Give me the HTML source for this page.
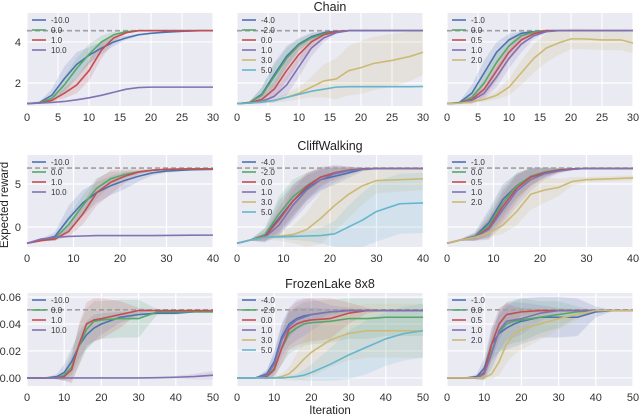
<!DOCTYPE html>
<html><head><meta charset="utf-8">
<style>
html,body{margin:0;padding:0;background:#fff;}
svg{display:block;font-family:"Liberation Sans",Arial,sans-serif;}
</style></head>
<body>
<svg id="fig" width="640" height="416" viewBox="0 0 640 416"></svg>
<script>
// ---- x samples ----
const xsChain = [0,2,4,6,8,10,12,14,16,18,20,22,25,28,30];
const xsCliff = [0,3,6,9,12,15,18,21,24,27,30,35,40];
const xsFrozen = [0,5,8,10,12,14,16,18,20,25,30,35,40,45,50];

// ---- Chain ----
const chainA_labels = ["-10.0","0.0","1.0","10.0"];
const chainA_s0 = [1,1.05,1.4,2.2,2.9,3.35,3.7,4.0,4.2,4.35,4.42,4.47,4.52,4.55,4.55];
const chainA_s1 = [1,1.03,1.25,1.9,2.7,3.4,4.0,4.35,4.5,4.55,4.55,4.55,4.55,4.55,4.55];
const chainA_s2 = [1,1.02,1.15,1.5,1.9,2.6,3.6,4.2,4.45,4.55,4.55,4.55,4.55,4.55,4.55];
const chainA_s3 = [1,1.02,1.05,1.1,1.18,1.28,1.4,1.55,1.7,1.78,1.8,1.8,1.8,1.8,1.8];
const chainA_d0 = [0,0.05,0.3,0.6,0.6,0.4,0.3,0.2,0.1,0.05,0.03,0.02,0.01,0,0];
const chainA_d1 = [0,0.03,0.2,0.4,0.5,0.5,0.3,0.15,0.05,0,0,0,0,0,0];
const chainA_d2 = [0,0.02,0.1,0.25,0.4,0.5,0.4,0.2,0.05,0,0,0,0,0,0];
const chainA_d3 = [0,0.01,0.02,0.02,0.02,0.02,0.02,0.02,0.02,0.02,0.02,0.02,0.02,0.02,0.02];

const chainB_labels = ["-4.0","-2.0","0.0","1.0","3.0","5.0"];
const chainB_s0 = [1,1.05,1.45,2.4,3.3,3.9,4.25,4.45,4.52,4.55,4.55,4.55,4.55,4.55,4.55];
const chainB_s1 = [1,1.05,1.4,2.3,3.2,3.85,4.2,4.4,4.5,4.55,4.55,4.55,4.55,4.55,4.55];
const chainB_s2 = [1,1.03,1.2,1.7,2.6,3.4,4.0,4.35,4.5,4.55,4.55,4.55,4.55,4.55,4.55];
const chainB_s3 = [1,1.02,1.1,1.35,1.9,2.8,3.7,4.2,4.45,4.55,4.55,4.55,4.55,4.55,4.55];
const chainB_s4 = [1,1.02,1.07,1.15,1.3,1.5,1.8,2.1,2.2,2.6,2.75,2.95,3.1,3.3,3.5];
const chainB_s5 = [1,1.02,1.07,1.15,1.3,1.45,1.6,1.7,1.8,1.82,1.82,1.82,1.82,1.82,1.83];
const chainB_d0 = [0,0.05,0.35,0.6,0.5,0.3,0.2,0.1,0.05,0,0,0,0,0,0];
const chainB_d1 = [0,0.05,0.35,0.6,0.5,0.3,0.2,0.1,0.05,0,0,0,0,0,0];
const chainB_d2 = [0,0.03,0.2,0.4,0.5,0.4,0.3,0.15,0.05,0,0,0,0,0,0];
const chainB_d3 = [0,0.02,0.1,0.3,0.5,0.5,0.4,0.2,0.05,0,0,0,0,0,0];
const chainB_d4 = [0,0.02,0.05,0.1,0.2,0.3,0.5,0.8,1.0,1.2,1.3,1.3,1.3,1.2,1.1];
const chainB_d5 = [0,0.01,0.02,0.02,0.02,0.02,0.02,0.02,0.02,0.02,0.02,0.02,0.02,0.02,0.02];

const chainC_labels = ["-1.0","0.0","0.5","1.0","2.0"];
const chainC_s0 = [1,1.05,1.5,2.5,3.5,4.1,4.42,4.5,4.55,4.55,4.55,4.55,4.55,4.55,4.55];
const chainC_s1 = [1,1.03,1.3,2.0,3.0,3.8,4.3,4.48,4.55,4.55,4.55,4.55,4.55,4.55,4.55];
const chainC_s2 = [1,1.02,1.2,1.7,2.6,3.5,4.1,4.4,4.55,4.55,4.55,4.55,4.55,4.55,4.55];
const chainC_s3 = [1,1.02,1.15,1.5,2.3,3.2,3.9,4.3,4.5,4.55,4.55,4.55,4.55,4.55,4.55];
const chainC_s4 = [1,1.01,1.08,1.2,1.4,1.8,2.5,3.2,3.7,3.95,4.15,4.15,4.1,4.1,3.95];
const chainC_d0 = [0,0.05,0.4,0.6,0.5,0.3,0.1,0.05,0,0,0,0,0,0,0];
const chainC_d1 = [0,0.03,0.3,0.5,0.5,0.4,0.2,0.05,0,0,0,0,0,0,0];
const chainC_d2 = [0,0.02,0.2,0.4,0.5,0.4,0.3,0.1,0,0,0,0,0,0,0];
const chainC_d3 = [0,0.02,0.15,0.3,0.5,0.5,0.4,0.15,0.05,0,0,0,0,0,0];
const chainC_d4 = [0,0.01,0.05,0.1,0.2,0.4,0.6,0.7,0.7,0.6,0.5,0.5,0.5,0.5,0.5];

// ---- CliffWalking ----
const cliffA_labels = ["-10.0","0.0","1.0","10.0"];
const cliffA_s0 = [-1.9,-1.5,-1.1,1.0,2.8,4.0,4.8,5.4,5.9,6.3,6.5,6.65,6.7];
const cliffA_s1 = [-1.9,-1.5,-1.3,0.3,2.5,4.5,5.6,6.1,6.4,6.6,6.7,6.75,6.75];
const cliffA_s2 = [-1.9,-1.6,-1.4,-0.5,1.5,4.0,5.2,5.9,6.4,6.6,6.7,6.75,6.75];
const cliffA_s3 = [-1.9,-1.4,-1.2,-1.1,-1.05,-1.0,-1.0,-1.0,-1.0,-1.0,-0.98,-0.96,-0.95];
const cliffA_d0 = [0,0.1,0.5,1.5,1.5,1.2,1.1,1.0,0.6,0.3,0.2,0.1,0.05];
const cliffA_d1 = [0,0.1,0.3,1.0,1.2,1.2,0.8,0.4,0.2,0.1,0.05,0,0];
const cliffA_d2 = [0,0.1,0.2,0.6,1.2,1.5,1.4,0.8,0.3,0.1,0.05,0,0];
const cliffA_d3 = [0,0.05,0.05,0.05,0.05,0.05,0.05,0.05,0.05,0.05,0.05,0.05,0.05];

const cliffB_labels = ["-4.0","-2.0","0.0","1.0","3.0","5.0"];
const cliffB_s0 = [-1.9,-1.5,-1.0,1.0,3.0,4.5,5.5,5.9,6.3,6.7,6.8,6.8,6.8];
const cliffB_s1 = [-1.9,-1.5,-0.9,1.5,3.5,4.8,5.8,6.3,6.6,6.75,6.8,6.8,6.8];
const cliffB_s2 = [-1.9,-1.5,-1.1,0.8,3.0,4.7,5.8,6.3,6.6,6.75,6.8,6.8,6.8];
const cliffB_s3 = [-1.9,-1.5,-1.2,0.2,2.5,4.3,5.5,6.2,6.55,6.7,6.8,6.8,6.8];
const cliffB_s4 = [-1.9,-1.5,-1.2,-1.1,-0.9,-0.3,1.0,2.5,3.8,4.8,5.4,5.5,5.6];
const cliffB_s5 = [-1.9,-1.5,-1.2,-1.15,-1.1,-1.05,-1.0,-0.8,0,0.8,1.8,2.7,2.8];
const cliffB_d0 = [0,0.1,0.8,2.0,2.0,1.5,1.2,1.0,0.6,0.2,0.1,0,0];
const cliffB_d1 = [0,0.1,0.8,2.0,2.0,1.5,1.0,0.6,0.3,0.1,0,0,0];
const cliffB_d2 = [0,0.1,0.5,1.5,1.8,1.6,1.2,0.8,0.4,0.1,0,0,0];
const cliffB_d3 = [0,0.1,0.4,1.2,1.8,1.8,1.4,1.0,0.5,0.2,0.1,0,0];
const cliffB_d4 = [0,0.1,0.3,0.5,1.0,2.0,3.0,3.0,2.8,2.2,1.5,1.4,1.3];
const cliffB_d5 = [0,0.1,0.1,0.2,0.4,0.6,0.9,1.5,2.5,3.2,3.5,3.5,3.5];

const cliffC_labels = ["-1.0","0.0","0.5","1.0","2.0"];
const cliffC_s0 = [-1.9,-1.5,-1.1,0.5,3.2,4.8,5.8,6.3,6.6,6.75,6.8,6.8,6.8];
const cliffC_s1 = [-1.9,-1.5,-1.15,0.2,2.8,4.8,5.9,6.4,6.65,6.75,6.8,6.8,6.8];
const cliffC_s2 = [-1.9,-1.5,-1.2,-0.1,2.4,4.5,5.8,6.3,6.6,6.75,6.8,6.8,6.8];
const cliffC_s3 = [-1.9,-1.5,-1.2,-0.3,2.0,4.2,5.5,6.2,6.5,6.7,6.8,6.8,6.8];
const cliffC_s4 = [-1.9,-1.5,-1.2,-0.7,0.2,1.8,3.8,4.3,4.6,5.3,5.5,5.6,5.7];
const cliffC_d0 = [0,0.1,0.5,1.5,1.8,1.4,1.0,0.5,0.2,0.1,0,0,0];
const cliffC_d1 = [0,0.1,0.4,1.4,1.8,1.5,1.0,0.5,0.2,0.1,0,0,0];
const cliffC_d2 = [0,0.1,0.4,1.2,1.8,1.6,1.1,0.6,0.3,0.1,0,0,0];
const cliffC_d3 = [0,0.1,0.4,1.2,1.8,1.8,1.3,0.7,0.3,0.1,0,0,0];
const cliffC_d4 = [0,0.1,0.3,0.5,1.0,1.6,1.8,1.5,1.0,0.5,0.3,0.3,0.3];

// ---- FrozenLake ----
const frozA_labels = ["-10.0","0.0","1.0","10.0"];
const frozA_s0 = [0,0,0.001,0.004,0.012,0.024,0.032,0.037,0.040,0.045,0.047,0.048,0.048,0.049,0.049];
const frozA_s1 = [0,0,0,0.002,0.008,0.024,0.036,0.042,0.043,0.044,0.044,0.049,0.049,0.049,0.049];
const frozA_s2 = [0,0,0,0.001,0.006,0.025,0.040,0.043,0.044,0.047,0.050,0.050,0.050,0.050,0.050];
const frozA_s3 = [0,0,0,0,0,0,0,0,0,0,0,0.0002,0.0005,0.001,0.002];
const frozA_d0 = [0,0,0.002,0.006,0.01,0.01,0.01,0.01,0.008,0.004,0.002,0.001,0.001,0,0];
const frozA_d1 = [0,0,0.001,0.004,0.01,0.015,0.015,0.015,0.014,0.014,0.014,0.002,0.001,0,0];
const frozA_d2 = [0,0,0.001,0.003,0.01,0.015,0.016,0.016,0.015,0.01,0.002,0,0,0,0];
const frozA_d3 = [0,0,0,0,0,0,0,0,0,0,0,0.0005,0.001,0.002,0.003];

const frozB_labels = ["-4.0","-2.0","0.0","1.0","3.0","5.0"];
const frozB_s0 = [0,0,0.003,0.012,0.030,0.040,0.044,0.046,0.047,0.049,0.050,0.050,0.050,0.050,0.050];
const frozB_s1 = [0,0,0.001,0.007,0.022,0.033,0.037,0.040,0.041,0.042,0.044,0.044,0.045,0.045,0.045];
const frozB_s2 = [0,0,0.001,0.006,0.022,0.036,0.040,0.042,0.043,0.044,0.048,0.050,0.050,0.050,0.050];
const frozB_s3 = [0,0,0.002,0.010,0.028,0.038,0.043,0.045,0.047,0.049,0.050,0.050,0.050,0.050,0.050];
const frozB_s4 = [0,0,0,0,0.001,0.003,0.008,0.014,0.019,0.028,0.033,0.035,0.035,0.035,0.035];
const frozB_s5 = [0,0,0,0,0,0.0005,0.001,0.002,0.004,0.010,0.017,0.023,0.029,0.033,0.035];
const frozB_d0 = [0,0,0.003,0.008,0.01,0.01,0.008,0.006,0.005,0.002,0.001,0,0,0,0];
const frozB_d1 = [0,0,0.002,0.006,0.012,0.015,0.016,0.016,0.016,0.016,0.015,0.015,0.014,0.014,0.014];
const frozB_d2 = [0,0,0.002,0.006,0.012,0.015,0.016,0.016,0.016,0.015,0.008,0.002,0,0,0];
const frozB_d3 = [0,0,0.003,0.008,0.012,0.014,0.015,0.014,0.012,0.005,0.002,0,0,0,0];
const frozB_d4 = [0,0,0,0,0.002,0.005,0.01,0.015,0.018,0.02,0.02,0.02,0.02,0.02,0.02];
const frozB_d5 = [0,0,0,0,0,0.001,0.002,0.004,0.006,0.012,0.018,0.02,0.02,0.02,0.02];

const frozC_labels = ["-1.0","0.0","0.5","1.0","2.0"];
const frozC_s0 = [0,0,0.001,0.007,0.025,0.033,0.037,0.040,0.042,0.045,0.045,0.045,0.049,0.050,0.050];
const frozC_s1 = [0,0,0,0.004,0.020,0.034,0.040,0.042,0.043,0.045,0.047,0.049,0.050,0.050,0.050];
const frozC_s2 = [0,0,0,0.004,0.025,0.040,0.047,0.048,0.049,0.050,0.050,0.050,0.050,0.050,0.050];
const frozC_s3 = [0,0,0,0.003,0.018,0.035,0.042,0.043,0.044,0.048,0.050,0.050,0.050,0.050,0.050];
const frozC_s4 = [0,0,0,0,0.003,0.012,0.025,0.032,0.036,0.040,0.044,0.047,0.050,0.050,0.050];
const frozC_d0 = [0,0,0.002,0.008,0.012,0.014,0.016,0.017,0.017,0.015,0.015,0.014,0.004,0,0];
const frozC_d1 = [0,0,0.001,0.006,0.012,0.015,0.016,0.016,0.016,0.012,0.01,0.004,0,0,0];
const frozC_d2 = [0,0,0.001,0.005,0.012,0.012,0.008,0.005,0.003,0.001,0,0,0,0,0];
const frozC_d3 = [0,0,0.001,0.004,0.012,0.015,0.014,0.013,0.012,0.006,0.002,0,0,0,0];
const frozC_d4 = [0,0,0,0.001,0.004,0.01,0.014,0.015,0.015,0.012,0.008,0.004,0.001,0,0];

const optimalChain = 4.55, optimalCliff = 6.85, optimalFrozen = 0.0505;

const NS = "http://www.w3.org/2000/svg";
const svg = document.getElementById("fig");
const COLORS = ["#4c72b0","#55a868","#c44e52","#8172b2","#ccb974","#64b5cd"];
const COLORS4 = ["#4c72b0","#55a868","#c44e52","#8172b2"];
function mk(tag, attrs, parent){const e=document.createElementNS(NS,tag);for(const k in attrs)e.setAttribute(k,attrs[k]);(parent||svg).appendChild(e);return e;}

const cols = [[27,213],[237,423],[447,633]];
const rows = [
 {top:13,bot:106,ymin:0.88,ymax:5.41,xmax:30,xt:[0,5,10,15,20,25,30],yt:[2,4],ytl:["2","4"],xs:xsChain,opt:optimalChain,title:"Chain",ty:11,
  panels:[[chainA_labels,[chainA_s0,chainA_s1,chainA_s2,chainA_s3],[chainA_d0,chainA_d1,chainA_d2,chainA_d3]],
          [chainB_labels,[chainB_s0,chainB_s1,chainB_s2,chainB_s3,chainB_s4,chainB_s5],[chainB_d0,chainB_d1,chainB_d2,chainB_d3,chainB_d4,chainB_d5]],
          [chainC_labels,[chainC_s0,chainC_s1,chainC_s2,chainC_s3,chainC_s4],[chainC_d0,chainC_d1,chainC_d2,chainC_d3,chainC_d4]]]},
 {top:155,bot:247,ymin:-2.33,ymax:8.37,xmax:40,xt:[0,10,20,30,40],yt:[0,5],ytl:["0","5"],xs:xsCliff,opt:optimalCliff,title:"CliffWalking",ty:150,
  panels:[[cliffA_labels,[cliffA_s0,cliffA_s1,cliffA_s2,cliffA_s3],[cliffA_d0,cliffA_d1,cliffA_d2,cliffA_d3]],
          [cliffB_labels,[cliffB_s0,cliffB_s1,cliffB_s2,cliffB_s3,cliffB_s4,cliffB_s5],[cliffB_d0,cliffB_d1,cliffB_d2,cliffB_d3,cliffB_d4,cliffB_d5]],
          [cliffC_labels,[cliffC_s0,cliffC_s1,cliffC_s2,cliffC_s3,cliffC_s4],[cliffC_d0,cliffC_d1,cliffC_d2,cliffC_d3,cliffC_d4]]]},
 {top:293,bot:386,ymin:-0.006,ymax:0.063,xmax:50,xt:[0,10,20,30,40,50],yt:[0,0.02,0.04,0.06],ytl:["0.00","0.02","0.04","0.06"],xs:xsFrozen,opt:optimalFrozen,title:"FrozenLake 8x8",ty:288,
  panels:[[frozA_labels,[frozA_s0,frozA_s1,frozA_s2,frozA_s3],[frozA_d0,frozA_d1,frozA_d2,frozA_d3]],
          [frozB_labels,[frozB_s0,frozB_s1,frozB_s2,frozB_s3,frozB_s4,frozB_s5],[frozB_d0,frozB_d1,frozB_d2,frozB_d3,frozB_d4,frozB_d5]],
          [frozC_labels,[frozC_s0,frozC_s1,frozC_s2,frozC_s3,frozC_s4],[frozC_d0,frozC_d1,frozC_d2,frozC_d3,frozC_d4]]]}
];

rows.forEach((r,ri)=>{
  const t=mk("text",{x:330,y:r.ty,"text-anchor":"middle","font-size":"12.5",fill:"#222"});
  t.textContent=r.title;
  
  
  r.panels.forEach((p,ci)=>{
    const [x0,x1]=cols[ci];
    const sx=v=>x0+(v/r.xmax)*(x1-x0);
    const sy=v=>r.bot-(v-r.ymin)/(r.ymax-r.ymin)*(r.bot-r.top);
    const g=mk("g",{});
    
    
    mk("rect",{x:x0,y:r.top,width:x1-x0,height:r.bot-r.top,fill:"#eaeaf2"},g);
    r.xt.forEach(v=>{
      mk("line",{x1:sx(v),x2:sx(v),y1:r.top,y2:r.bot,stroke:"#fff","stroke-width":1.2},g);
      const tl=mk("text",{x:sx(v),y:r.bot+15,"text-anchor":"middle","font-size":"11",fill:"#333"},g);
      tl.textContent=String(v);
      
      
    });
    r.yt.forEach((v,i)=>{
      mk("line",{x1:x0,x2:x1,y1:sy(v),y2:sy(v),stroke:"#fff","stroke-width":1.2},g);
      if(ci===0){
        const tl=mk("text",{x:x0-6,y:sy(v)+4,"text-anchor":"end","font-size":"11",fill:"#333"},g);
        tl.textContent=r.ytl[i];
        
        
      }
    });
    const cols6 = p[1].length===4?COLORS4:COLORS;
    p[1].forEach((s,si)=>{
      const d=p[2][si];
      let up=r.xs.map((x,i)=>sx(x)+","+sy(Math.min(s[i]+d[i],r.ymax))).join(" ");
      let lo=r.xs.map((x,i)=>sx(x)+","+sy(Math.max(s[i]-d[i],r.ymin))).reverse().join(" ");
      const b=mk("polygon",{points:up+" "+lo,fill:cols6[si],"fill-opacity":0.17,stroke:"none"},g);
      
      
    });
    const dl=mk("line",{x1:x0,x2:x1,y1:sy(r.opt),y2:sy(r.opt),stroke:"#a0a0a0","stroke-width":1.6,"stroke-dasharray":"5,3"},g);
    
    
    p[1].forEach((s,si)=>{
      const pts=r.xs.map((x,i)=>sx(x)+","+sy(s[i])).join(" ");
      const l=mk("polyline",{points:pts,fill:"none",stroke:cols6[si],"stroke-width":1.6,"stroke-linejoin":"round"},g);
      
      
    });
    p[0].forEach((lab,li)=>{
      const ly=r.top+7+li*10;
      const lg=mk("g",{},g);
      
      
      mk("line",{x1:x0+5,x2:x0+19,y1:ly,y2:ly,stroke:cols6[li],"stroke-width":1.6},lg);
      const lt=mk("text",{x:x0+24,y:ly+3,"font-size":"8",fill:"#333"},lg);
      lt.textContent=lab;
    });
  });
});
const yl=mk("text",{x:8,y:205,"text-anchor":"middle","font-size":"11.5",fill:"#222",transform:"rotate(-90 8 205)"});
yl.textContent="Expected reward";


const xl=mk("text",{x:330,y:414,"text-anchor":"middle","font-size":"11.5",fill:"#222"});
xl.textContent="Iteration";


</script>
</body></html>
